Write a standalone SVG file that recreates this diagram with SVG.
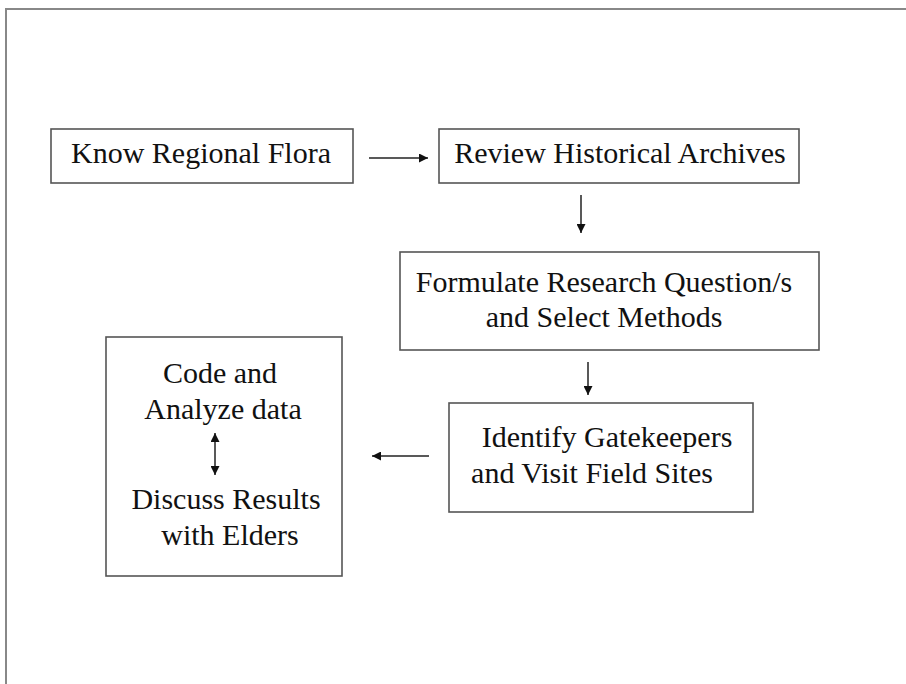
<svg xmlns="http://www.w3.org/2000/svg" width="906" height="684" viewBox="0 0 906 684">
<style>
.box{fill:#fff;stroke:#555;stroke-width:1.6}
.t{font-family:"Liberation Serif","Times New Roman",serif;font-size:30px;fill:#111;text-anchor:middle}
.c{stroke:#222;stroke-width:1.5;fill:none}
</style>
<defs>
<marker id="ah" viewBox="0 0 10 10" refX="10" refY="5" markerWidth="10" markerHeight="9" markerUnits="userSpaceOnUse" orient="auto-start-reverse">
<path d="M0,0 L10,5 L0,10 z" fill="#111"/>
</marker>
</defs>
<rect width="906" height="684" fill="#fff"/>
<path d="M6,684 V9 H906" fill="none" stroke="#888" stroke-width="2"/>
<g id="n1"><rect class="box" x="51" y="129" width="302" height="54"/><text class="t" x="201" y="163">Know Regional Flora</text></g>
<g id="n2"><rect class="box" x="439" y="129" width="360" height="54"/><text class="t" x="620" y="163">Review Historical Archives</text></g>
<g id="n3"><rect class="box" x="400" y="252" width="419" height="98"/><text class="t" x="604" y="292">Formulate Research Question/s</text><text class="t" x="604" y="327">and Select Methods</text></g>
<g id="n4"><rect class="box" x="449" y="403" width="304" height="109"/><text class="t" x="607" y="447">Identify Gatekeepers</text><text class="t" x="592" y="483">and Visit Field Sites</text></g>
<g id="n5"><rect class="box" x="106" y="337" width="236" height="239"/><text class="t" x="220" y="383">Code and</text><text class="t" x="223" y="419">Analyze data</text><text class="t" x="226" y="509">Discuss Results</text><text class="t" x="230" y="545">with Elders</text></g>
<g id="connectors">
<line class="c" x1="369" y1="158" x2="428" y2="158" marker-end="url(#ah)"/>
<line class="c" x1="581" y1="195" x2="581" y2="233" marker-end="url(#ah)"/>
<line class="c" x1="588" y1="362" x2="588" y2="395" marker-end="url(#ah)"/>
<line class="c" x1="429" y1="456" x2="372" y2="456" marker-end="url(#ah)"/>
<line class="c" x1="215" y1="433" x2="215" y2="475" marker-start="url(#ah)" marker-end="url(#ah)"/>
</g>
</svg>
